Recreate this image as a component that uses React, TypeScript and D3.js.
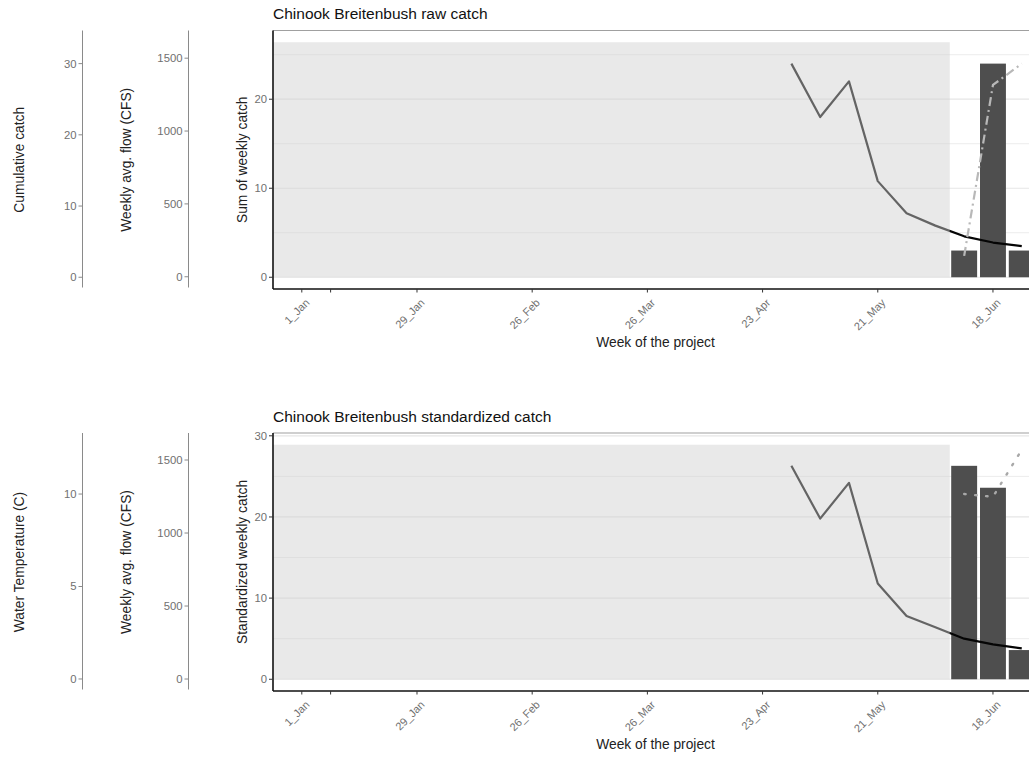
import React from "react";
import * as d3 from "d3";

// ---------- data ----------
const trendWeeks = [18, 19, 20, 21, 22, 23, 24, 25, 26];
const rawCatchTrend = [24, 18, 22, 10.8, 7.2, 5.8, 4.6, 3.9, 3.5];
const stdCatchTrend = [26.3, 19.8, 24.2, 11.8, 7.8, 6.4, 5.0, 4.3, 3.8];
const barWeeks = [24, 25, 26];
const rawCatch = [3, 24, 3];
const stdCatch = [26.3, 23.6, 3.6];
const cumulativeCatch = [3, 27, 30];
const waterTemp = [10.0, 9.85, 12.4];
const tickWeeks = [1, 2, 5, 9, 13, 17, 21, 25];
const tickLabels = ["1_Jan", "", "29_Jan", "26_Feb", "26_Mar", "23_Apr", "21_May", "18_Jun"];
const shadeEndWeek = 23.5;

const FONT = "'Liberation Sans', Arial, Helvetica, sans-serif";

const x = d3.scaleLinear().domain([0, 26.55]).range([273, 1037.6]);

type AuxAxis = { title: string; domain: [number, number]; ticks: number[]; x: number; titleX: number };

type PanelSpec = {
  title: string;
  yTitle: string;
  top: number;
  bottom: number;
  yDomain: [number, number];
  yTicks: number[];
  yMinor: number[];
  shadeTop: number;
  bars: number[];
  trend: number[];
  aux: AuxAxis[];
  overlay: "cumulative" | "temp";
};

const panels: PanelSpec[] = [
  {
    title: "Chinook Breitenbush raw catch",
    yTitle: "Sum of weekly catch",
    top: 30.5,
    bottom: 289,
    yDomain: [-1.32, 27.72],
    yTicks: [0, 10, 20],
    yMinor: [5, 15, 25],
    shadeTop: 26.4,
    bars: rawCatch,
    trend: rawCatchTrend,
    aux: [
      { title: "Cumulative catch", domain: [-1.65, 34.65], ticks: [0, 10, 20, 30], x: 82.5, titleX: 19 },
      { title: "Weekly avg. flow (CFS)", domain: [-84, 1690], ticks: [0, 500, 1000, 1500], x: 188.5, titleX: 126 },
    ],
    overlay: "cumulative",
  },
  {
    title: "Chinook Breitenbush standardized catch",
    yTitle: "Standardized weekly catch",
    top: 433,
    bottom: 691,
    yDomain: [-1.445, 30.345],
    yTicks: [0, 10, 20, 30],
    yMinor: [5, 15, 25],
    shadeTop: 28.9,
    bars: stdCatch,
    trend: stdCatchTrend,
    aux: [
      { title: "Water Temperature (C)", domain: [-0.65, 13.3], ticks: [0, 5, 10], x: 82.5, titleX: 19 },
      { title: "Weekly avg. flow (CFS)", domain: [-82, 1685], ticks: [0, 500, 1000, 1500], x: 188.5, titleX: 126 },
    ],
    overlay: "temp",
  },
];

function Panel({ p }: { p: PanelSpec }) {
  const y = d3.scaleLinear().domain(p.yDomain).range([p.bottom, p.top]);
  const left = x.range()[0];
  const right = x.range()[1];
  const midY = (p.top + p.bottom) / 2;
  const trendLine = d3
    .line<number>()
    .x((_, i) => x(trendWeeks[i]))
    .y((d) => y(d));
  const overlayScale = d3.scaleLinear().domain(p.aux[0].domain).range([p.bottom, p.top]);
  const overlayVals = p.overlay === "cumulative" ? cumulativeCatch : waterTemp;
  const overlayLine = d3
    .line<number>()
    .x((_, i) => x(barWeeks[i]))
    .y((d) => overlayScale(d));
  const bw = x(0.9) - x(0);

  return (
    <g>
      {/* aux axes */}
      {p.aux.map((a, ai) => {
        const s = d3.scaleLinear().domain(a.domain).range([p.bottom, p.top]);
        return (
          <g key={ai}>
            <line x1={a.x} x2={a.x} y1={p.top} y2={p.bottom - 1.5} stroke="#8a8a8a" strokeWidth={1} />
            {a.ticks.map((t) => (
              <g key={t}>
                <line x1={a.x - 4} x2={a.x} y1={s(t)} y2={s(t)} stroke="#8a8a8a" strokeWidth={1} />
                <text x={a.x - 6} y={s(t)} dy="0.35em" textAnchor="end" fontSize={11.3} fill="#707070" fontFamily={FONT}>
                  {t}
                </text>
              </g>
            ))}
            <text
              transform={`translate(${a.titleX},${midY}) rotate(-90)`}
              textAnchor="middle"
              dy="0.35em"
              fontSize={13.8}
              fill="#222"
              fontFamily={FONT}
            >
              {a.title}
            </text>
          </g>
        );
      })}

      {/* title */}
      <text x={273} y={p.top - 11.5} fontSize={15.5} fill="#111" fontFamily={FONT}>
        {p.title}
      </text>

      {/* grid */}
      {p.yMinor.map((t) => (
        <line key={"m" + t} x1={left} x2={right} y1={y(t)} y2={y(t)} stroke="#ececec" strokeWidth={1} />
      ))}
      {p.yTicks.map((t) => (
        <line key={"g" + t} x1={left} x2={right} y1={y(t)} y2={y(t)} stroke="#e6e6e6" strokeWidth={1.2} />
      ))}

      {/* bars */}
      {p.bars.map((v, i) => (
        <rect
          key={i}
          x={x(barWeeks[i]) - bw / 2}
          y={y(v)}
          width={bw}
          height={y(0) - y(v)}
          fill="#4e4e4e"
        />
      ))}

      {/* trend line (under the shading, over the bars) */}
      <path d={trendLine(p.trend) || ""} fill="none" stroke="#050505" strokeWidth={2.2} strokeLinejoin="round" />

      {/* shading rectangle */}
      <rect
        x={x(0)}
        y={y(p.shadeTop)}
        width={x(shadeEndWeek) - x(0)}
        height={y(0) - y(p.shadeTop)}
        fill="#d0d0d0"
        fillOpacity={0.47}
      />

      {/* overlay line */}
      <path
        d={overlayLine(overlayVals) || ""}
        fill="none"
        stroke={p.overlay === "cumulative" ? "#b8b8b8" : "#a8a8a8"}
        strokeWidth={p.overlay === "cumulative" ? 2.2 : 2.4}
        strokeDasharray={p.overlay === "cumulative" ? "9,4,2,4" : "1.5,9.5"}
        strokeLinecap={p.overlay === "cumulative" ? "butt" : "round"}
      />

      {/* panel border (top) */}
      <line x1={left} x2={right} y1={p.top} y2={p.top} stroke="#a0a0a0" strokeWidth={1.2} />

      {/* y axis */}
      <line x1={left} x2={left} y1={p.top} y2={p.bottom} stroke="#111" strokeWidth={1.6} />
      {p.yTicks.map((t) => (
        <g key={"t" + t}>
          <line x1={left - 4} x2={left} y1={y(t)} y2={y(t)} stroke="#333" strokeWidth={1} />
          <text x={left - 6} y={y(t)} dy="0.35em" textAnchor="end" fontSize={11.3} fill="#707070" fontFamily={FONT}>
            {t}
          </text>
        </g>
      ))}
      <text
        transform={`translate(${242},${midY}) rotate(-90)`}
        textAnchor="middle"
        dy="0.35em"
        fontSize={13.8}
        fill="#222"
        fontFamily={FONT}
      >
        {p.yTitle}
      </text>

      {/* x axis */}
      <line x1={left} x2={right} y1={p.bottom} y2={p.bottom} stroke="#111" strokeWidth={1.6} />
      {tickWeeks.map((w, i) => (
        <g key={"x" + w}>
          <line x1={x(w)} x2={x(w)} y1={p.bottom} y2={p.bottom + 3.5} stroke="#333" strokeWidth={1} />
          <text
            transform={`translate(${x(w) + 3},${p.bottom + 9}) rotate(-45)`}
            textAnchor="end"
            dy="0.7em"
            fontSize={11}
            fill="#707070"
            fontFamily={FONT}
          >
            {tickLabels[i]}
          </text>
        </g>
      ))}
      <text x={655.5} y={p.bottom + 58.3} textAnchor="middle" fontSize={13.8} fill="#222" fontFamily={FONT}>
        Week of the project
      </text>
    </g>
  );
}

export default function App() {
  return (
    <svg
      width={1029}
      height={757}
      style={{ position: "absolute", left: 0, top: 0, background: "#fff" }}
    >
      <rect x={0} y={0} width={1029} height={757} fill="#fff" />
      {panels.map((p, i) => (
        <Panel key={i} p={p} />
      ))}
    </svg>
  );
}
